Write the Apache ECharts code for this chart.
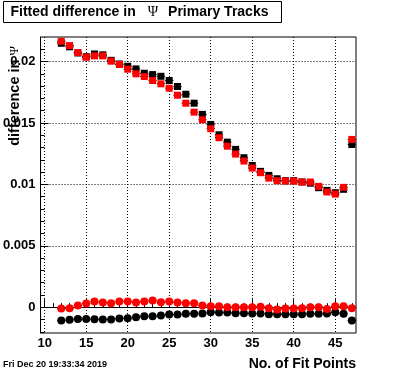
<!DOCTYPE html>
<html><head><meta charset="utf-8">
<script src="https://cdn.jsdelivr.net/npm/echarts@6/dist/echarts.min.js"></script>
<style>html,body{margin:0;padding:0;background:#fff}#c{width:396px;height:372px}</style>
</head><body><div id="c"></div>
<script>
const nFitPoints = [12,13,14,15,16,17,18,19,20,21,22,23,24,25,26,27,28,29,30,31,32,33,34,35,36,37,38,39,40,41,42,43,44,45,46,47];
const blackSquares = [0.02149,0.0212,0.0207,0.0204,0.02062,0.02055,0.0201,0.0198,0.01962,0.0194,0.01905,0.01894,0.0188,0.01846,0.01797,0.01734,0.01661,0.0157,0.01488,0.01404,0.01344,0.01285,0.01217,0.01154,0.01106,0.01073,0.01046,0.0103,0.0103,0.0102,0.0101,0.00973,0.00951,0.00932,0.0096,0.01325];
const redSquares = [0.02165,0.0213,0.02073,0.02035,0.02046,0.02046,0.02003,0.01976,0.01938,0.019,0.01878,0.01846,0.01819,0.01783,0.01726,0.01661,0.01588,0.01526,0.01453,0.0138,0.01311,0.01247,0.0119,0.01133,0.01095,0.01051,0.0103,0.01027,0.01027,0.01019,0.01019,0.00984,0.00938,0.00921,0.00976,0.01366];
const blackCircles = [-0.00108,-0.00103,-0.00095,-0.00095,-0.00098,-0.001,-0.001,-0.00092,-0.00089,-0.00081,-0.00073,-0.00073,-0.00068,-0.0006,-0.0006,-0.00054,-0.00054,-0.00051,-0.00041,-0.00043,-0.00043,-0.00049,-0.00049,-0.00051,-0.00051,-0.00057,-0.00057,-0.00057,-0.00057,-0.00057,-0.00054,-0.00054,-0.00051,-0.00041,-0.00054,-0.00108];
const redCircles = [-0.0001,-0.00008,0.00014,0.0003,0.00046,0.00038,0.00033,0.00046,0.00046,0.00038,0.00046,0.00054,0.0004,0.00046,0.00038,0.00033,0.00033,0.00014,0.00008,0.00008,0,0,0,0,0.00003,-0.00008,-0.00019,-0.0001,-0.0001,-0.00008,0,0,-0.00014,0.00008,0.00008,-0.00008];
const xMajorTicks = [10,15,20,25,30,35,40,45];
const xMinorTicks = [10,11,12,13,14,15,16,17,18,19,20,21,22,23,24,25,26,27,28,29,30,31,32,33,34,35,36,37,38,39,40,41,42,43,44,45,46,47];
const yMajorTicks = [0,0.005,0.01,0.015,0.02];
const yMinorTicks = [-0.002,-0.001,0,0.001,0.002,0.003,0.004,0.005,0.006,0.007,0.008,0.009,0.01,0.011,0.012,0.013,0.014,0.015,0.016,0.017,0.018,0.019,0.02,0.021];
const titleText = 'Fitted difference in';
const titleSymbol = 'Ψ';
const titleText2 = 'Primary Tracks';
const yTitle = 'difference in ';
const xTitle = 'No. of Fit Points';
const dateText = 'Fri Dec 20 19:33:34 2019';

const FONT = 'Liberation Sans';
const pairs = arr => arr.map((v, i) => [nFitPoints[i], v]);
function errBars(arr) {
  return {
    type: 'custom', silent: true, animation: false,
    data: pairs(arr),
    renderItem: (params, api) => {
      const x = api.value(0), y = api.value(1);
      const a = api.coord([x - 0.5, y]), b = api.coord([x + 0.5, y]);
      return {type: 'line', shape: {x1: a[0], y1: a[1], x2: b[0], y2: b[1]}, style: {stroke: '#000', lineWidth: 1}};
    }
  };
}
function markers(arr, symbol, size, color) {
  return {type: 'scatter', data: pairs(arr), symbol: symbol, symbolSize: size, itemStyle: {color: color, opacity: 1}, animation: false, silent: true};
}
const chart = echarts.init(document.getElementById('c'), null, {renderer: 'canvas'});
chart.setOption({
  backgroundColor: '#fff',
  animation: false,
  grid: {left: 40, right: 40, top: 37, bottom: 39, show: true, borderColor: '#000', borderWidth: 1, backgroundColor: 'transparent'},
  xAxis: [
    {type: 'value', min: 9.5, max: 47.5,
     axisLine: {lineStyle: {color: '#000', width: 1}},
     axisTick: {inside: true, length: 8, customValues: xMajorTicks, lineStyle: {color: '#000'}},
     axisLabel: {customValues: xMajorTicks, color: '#000', fontSize: 13, fontWeight: 'bold', fontFamily: FONT, margin: 4},
     splitLine: {show: true, lineStyle: {color: '#000', width: 1, type: [1, 2]}}},
    {type: 'value', min: 9.5, max: 47.5, position: 'bottom',
     axisLine: {show: false},
     axisTick: {inside: true, length: 4, customValues: xMinorTicks, lineStyle: {color: '#000'}},
     axisLabel: {show: false}, splitLine: {show: false}}
  ],
  yAxis: [
    {type: 'value', min: -0.0021, max: 0.022,
     axisLine: {show: true, lineStyle: {color: '#000', width: 1}},
     axisTick: {show: true, inside: true, length: 8, customValues: yMajorTicks, lineStyle: {color: '#000'}},
     axisLabel: {customValues: yMajorTicks, color: '#000', fontSize: 13, fontWeight: 'bold', fontFamily: FONT, margin: 5},
     splitLine: {show: true, lineStyle: {color: '#000', width: 1, type: [1, 2]}}},
    {type: 'value', min: -0.0021, max: 0.022, position: 'left',
     axisLine: {show: false},
     axisTick: {show: true, inside: true, length: 4, customValues: yMinorTicks, lineStyle: {color: '#000'}},
     axisLabel: {show: false}, splitLine: {show: false}}
  ],
  series: [
    errBars(blackCircles), markers(blackCircles, 'circle', 8, '#000'),
    errBars(redCircles), markers(redCircles, 'circle', 8, '#ff0000'),
    errBars(blackSquares), markers(blackSquares, 'rect', 7, '#000'),
    errBars(redSquares), markers(redSquares, 'rect', 7, '#ff0000')
  ],
  graphic: [
    {type: 'rect', shape: {x: 3.5, y: 1.5, width: 278, height: 21}, style: {fill: '#fff', stroke: '#000', lineWidth: 1}, z: 100},
    {type: 'text', x: 10.5, y: 12, z: 101, style: {
      text: '{a|' + titleText + '}{p|' + titleSymbol + '}{a|' + titleText2 + '}',
      verticalAlign: 'middle', align: 'left',
      rich: {a: {fontFamily: FONT, fontSize: 14, fontWeight: 'bold', fill: '#000'},
             p: {fontFamily: 'Liberation Serif', fontSize: 14, fill: '#000', padding: [0, 10, 0, 12]}}}},
    {type: 'text', x: 15, y: 46, rotation: Math.PI / 2, z: 101, style: {
      text: '{a|' + yTitle + '}{p|' + titleSymbol + '}',
      align: 'right', verticalAlign: 'middle',
      rich: {a: {fontFamily: FONT, fontSize: 14.5, fontWeight: 'bold', fill: '#000'},
             p: {fontFamily: 'Liberation Serif', fontSize: 13, fill: '#000'}}}},
    {type: 'text', x: 356, y: 364, z: 101, style: {text: xTitle, align: 'right', verticalAlign: 'middle', fontFamily: FONT, fontSize: 14, fontWeight: 'bold', fill: '#000'}},
    {type: 'text', x: 3, y: 365, z: 101, style: {text: dateText, align: 'left', verticalAlign: 'middle', fontFamily: FONT, fontSize: 9, fontWeight: 'bold', fill: '#000'}}
  ]
});
</script>
</body></html>
